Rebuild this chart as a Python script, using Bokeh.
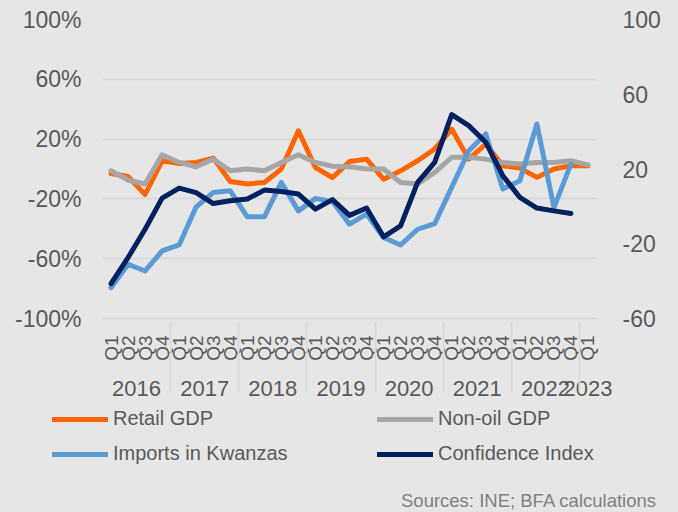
import math
from bokeh.plotting import figure
from bokeh.layouts import column
from bokeh.models import (FactorRange, Range1d, LinearAxis, FixedTicker, NumeralTickFormatter,
                          Legend, LegendItem, ColumnDataSource)
from bokeh.embed import file_html
from bokeh.resources import INLINE

years = ["2016", "2017", "2018", "2019", "2020", "2021", "2022", "2023"]
quarters = ["Q1", "Q2", "Q3", "Q4"]
periods = [(y, q) for y in years for q in quarters][:29]  # 2016Q1 .. 2023Q1

# values in % (left axis)
retail_gdp = [-3, -5, -17, 5.5, 3.7, 4.4, 7.3, -8.3, -10, -9, 0, 25.6, 1, -5.8, 5, 6.6,
              -6.8, -1.2, 5.5, 13.4, 26.7, 6.6, 16.7, 2.2, 0.6, -5.6, 0, 2.2, 2.2]
non_oil_gdp = [-1.2, -7.4, -10, 9.5, 4.4, 1.5, 6.6, -1.2, 0, -1.2, 4.4, 9.5, 4.4, 1.8, 1.5, 0,
               0, -9, -10, -2.3, 7.8, 7.8, 6.6, 4.4, 3.3, 4.4, 4.4, 5.5, 2.8]
imports_kz = [-79.4, -63.7, -68.2, -54.8, -50.8, -25.3, -15.7, -14.6, -32, -32, -9, -28, -19.7,
              -21.8, -36.9, -30.2, -45.8, -50.8, -40.3, -36.5, -12.3, 12.2, 23.4, -13.4, -7.9,
              30.1, -25.8, 3.3]
# right axis (index)
confidence = [-41.3, -27.4, -12.2, 4.4, 9.8, 7.4, 1.5, 3.0, 3.9, 8.7, 8.0, 6.6, -1.5, 3.6,
              -4.8, -0.9, -16.3, -10.4, 12.8, 23.5, 49.1, 43.2, 34.3, 16.4, 4.8, -0.9, -2.4, -3.8]

series_names = ["Retail GDP", "Non-oil GDP", "Imports in Kwanzas", "Confidence Index"]
colors = ["#ff6600", "#a6a6a6", "#5b9bd5", "#002060"]

left_ticks = [-1.0, -0.6, -0.2, 0.2, 0.6, 1.0]
right_ticks = [-60, -20, 20, 60, 100]
source_note = "Sources: INE; BFA calculations"

BG = "#e7e6e6"
TXT = "#595959"
GRID = "#d9d9d9"
FONT = "Liberation Sans"
LW = 5

xr = FactorRange(factors=periods, range_padding=0, factor_padding=0, group_padding=0,
                 subgroup_padding=0)
p = figure(x_range=xr, y_range=Range1d(-1, 1), frame_width=494, frame_height=299,
           min_border_left=102, min_border_right=82, min_border_top=19, min_border_bottom=86,
           output_backend="svg", toolbar_location=None,
           background_fill_color=BG, border_fill_color=BG, outline_line_color=None)
p.extra_y_ranges = {"conf": Range1d(-60, 100)}

src_full = ColumnDataSource(dict(x=periods, retail=[v / 100 for v in retail_gdp],
                                 nonoil=[v / 100 for v in non_oil_gdp]))
src_part = ColumnDataSource(dict(x=periods[:len(imports_kz)],
                                 imports=[v / 100 for v in imports_kz], conf=confidence))

kw = dict(line_width=LW, line_join="round", line_cap="round")
p.line("x", "retail", source=src_full, color=colors[0], **kw)
p.line("x", "nonoil", source=src_full, color=colors[1], **kw)
p.line("x", "imports", source=src_part, color=colors[2], **kw)
p.line("x", "conf", source=src_part, color=colors[3], y_range_name="conf", **kw)

# axes
ya = p.yaxis[0]
ya.ticker = FixedTicker(ticks=left_ticks)
ya.formatter = NumeralTickFormatter(format="0%")
ra = LinearAxis(y_range_name="conf", ticker=FixedTicker(ticks=right_ticks),
                formatter=NumeralTickFormatter(format="0"))
p.add_layout(ra, "right")
for ax, so in ((ya, 21), (ra, 26)):
    ax.major_label_text_font_size = "23px"
    ax.major_label_text_color = TXT
    ax.major_label_text_font = FONT
    ax.axis_line_color = None
    ax.major_tick_line_color = None
    ax.minor_tick_line_color = None
    ax.major_tick_out = 0
    ax.major_tick_in = 0
    ax.major_label_standoff = so

p.ygrid.ticker = FixedTicker(ticks=left_ticks)
p.ygrid.grid_line_color = GRID
p.ygrid.grid_line_width = 2
p.xgrid.grid_line_color = None

xa = p.xaxis[0]
xa.major_label_orientation = math.pi / 2
xa.major_label_text_font_size = "19px"
xa.major_label_text_color = TXT
xa.major_label_text_font = FONT
xa.major_label_standoff = 17
xa.major_tick_out = 0
xa.major_tick_in = 0
xa.group_text_font_size = "22px"
xa.group_text_color = TXT
xa.group_text_font = FONT
xa.group_text_font_style = "normal"
xa.axis_line_color = GRID
xa.axis_line_width = 2
xa.major_tick_line_color = None
xa.minor_tick_line_color = None
xa.separator_line_color = GRID
xa.separator_line_width = 2

# lower panel: legend + source note
p2 = figure(x_range=Range1d(0, 1), y_range=Range1d(0, 1), frame_width=678,
            frame_height=108, min_border=0, output_backend="svg", toolbar_location=None,
            background_fill_color=BG, border_fill_color=BG, outline_line_color=None,
            x_axis_type=None, y_axis_type=None)
p2.grid.visible = False
keys = []
for c in colors:
    keys.append(p2.line(x=[math.nan], y=[math.nan], color=c, **kw))
order = [0, 2, 1, 3]  # legend fills column by column
legend = Legend(items=[LegendItem(label=series_names[i], renderers=[keys[i]]) for i in order],
                ncols=2, location=(52, 47), padding=0, margin=0, spacing=12,
                glyph_width=56, glyph_height=20, label_height=20, label_width=252,
                label_standoff=5, label_text_font_size="20px", label_text_color=TXT,
                label_text_font=FONT, background_fill_alpha=0, border_line_color=None)
p2.add_layout(legend)

note_key = p2.line(x=[math.nan], y=[math.nan], line_alpha=0)
note = Legend(items=[LegendItem(label=source_note, renderers=[note_key])],
              location=(401, 0), padding=0, margin=0, glyph_width=0, glyph_height=1,
              label_standoff=0, label_height=18, label_text_font_size="18.5px",
              label_text_color="#808080", label_text_font=FONT,
              background_fill_alpha=0, border_line_color=None)
p2.add_layout(note)

layout = column(p, p2, spacing=0, styles={"background-color": BG})
open("out.html", "w").write(file_html(layout, INLINE))
